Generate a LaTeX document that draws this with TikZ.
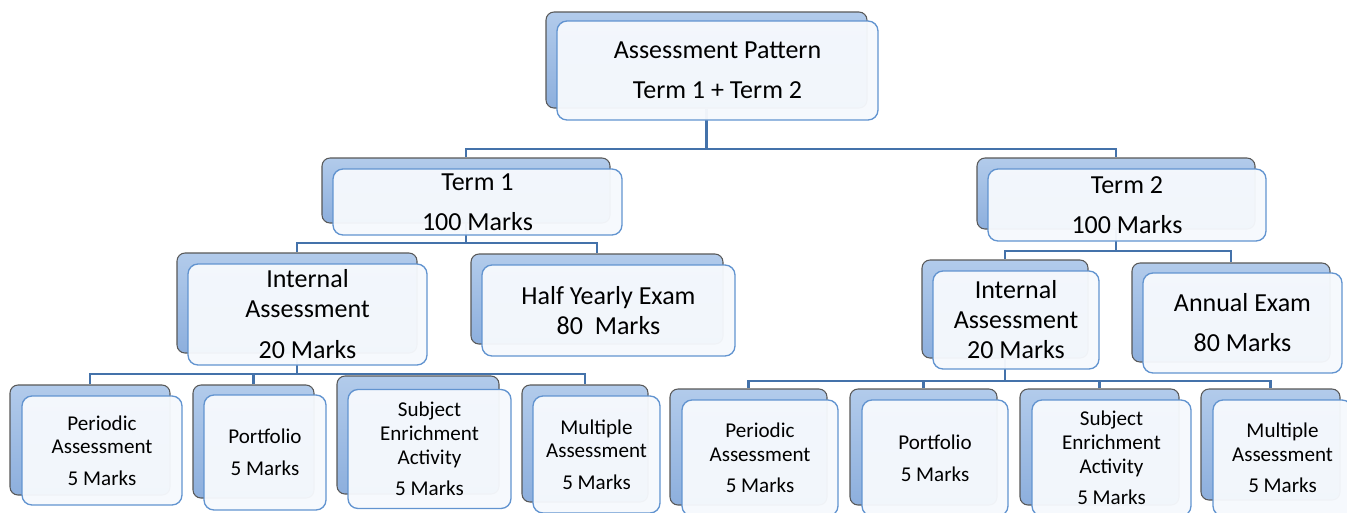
\documentclass[tikz,border=0pt]{standalone}
\usepackage{fontspec}
\setmainfont{Carlito}
\usetikzlibrary{backgrounds}
\definecolor{backtop}{RGB}{178,203,235}
\definecolor{backbot}{RGB}{141,175,221}
\definecolor{backline}{RGB}{88,88,88}
\definecolor{frontline}{RGB}{98,148,208}
\definecolor{frontfill}{RGB}{246,249,253}
\definecolor{linkblue}{RGB}{68,114,170}
\tikzset{every picture/.style={line width=0.75pt}}
\tikzset{
  backbox/.style={draw=backline, line width=0.8pt, rounded corners=6pt, top color=backtop, bottom color=backbot, inner sep=0pt},
  frontbox/.style={draw=frontline, line width=1pt, rounded corners=7.5pt, fill=frontfill, fill opacity=0.96, text opacity=1, align=center, inner sep=0pt},
  bigtext/.style={font=\fontsize{19.5}{22.5}\selectfont},
  smalltext/.style={font=\fontsize{15.8}{17.8}\selectfont},
  link/.style={draw=linkblue, line width=1.9pt}
}

\begin{document}
\begin{tikzpicture}[x=0.75pt,y=0.75pt,yscale=-1,xscale=1]
\useasboundingbox (0,0) rectangle (1347,512);
\clip (0,0) rectangle (1347,512);

%Shape: Top pair
\node [backbox, minimum width=240.75pt, minimum height=72pt] (top) at (706.5,60) {};
\node [frontbox, bigtext, minimum width=240.75pt, minimum height=74.25pt] (topF) at (717.5,70.5) {Assessment Pattern\\[7.5pt]Term 1 + Term 2};

%Shape: Term 1 pair
\node [backbox, minimum width=216pt, minimum height=48.75pt] (tone) at (466,190.5) {};
\node [frontbox, bigtext, minimum width=216.75pt, minimum height=49.5pt] (toneF) at (477.5,202) {Term 1\\[7.5pt]100 Marks};
%Shape: Term 2 pair
\node [backbox, minimum width=208.5pt, minimum height=53.25pt] (ttwo) at (1116,193.5) {};
\node [frontbox, bigtext, minimum width=208.5pt, minimum height=54pt] (ttwoF) at (1127,205) {Term 2\\[7.5pt]100 Marks};

%Shape: Internal Assessment (term 1)
\node [backbox, minimum width=180pt, minimum height=75pt] (inone) at (297,303) {};
\node [frontbox, bigtext, minimum width=179.25pt, minimum height=75.75pt] (inoneF) at (307.5,314.5) {Internal\\Assessment\\[8.25pt]20 Marks};
%Shape: Half Yearly Exam
\node [backbox, minimum width=189pt, minimum height=67.5pt] (half) at (597,299) {};
\node [frontbox, bigtext, minimum width=189.75pt, minimum height=68.25pt] (halfF) at (608.5,310.5) {Half Yearly Exam\\80\ \ Marks};

%Shape: Internal Assessment (term 2)
\node [backbox, minimum width=124.5pt, minimum height=73.5pt] (intwo) at (1005,309) {};
\node [frontbox, bigtext, minimum width=124.5pt, minimum height=73.5pt] (intwoF) at (1016,320) {Internal\\Assessment\\20 Marks};
%Shape: Annual Exam
\node [backbox, minimum width=148.5pt, minimum height=74.25pt] (annual) at (1231,312.5) {};
\node [frontbox, bigtext, minimum width=149.25pt, minimum height=75pt] (annualF) at (1242.5,323) {Annual Exam\\[7.5pt]80 Marks};

%Shape: bottom row, term 1
\node [backbox, minimum width=120pt, minimum height=82.5pt] (perone) at (90,440) {};
\node [frontbox, smalltext, minimum width=120pt, minimum height=81.75pt] (peroneF) at (102,450.5) {Periodic\\Assessment\\[6pt]5 Marks};
\node [backbox, minimum width=90.75pt, minimum height=84.75pt] (portone) at (253.5,441.5) {};
\node [frontbox, smalltext, minimum width=91.5pt, minimum height=86.25pt] (portoneF) at (265,452.5) {Portfolio\\[6pt]5 Marks};
\node [backbox, minimum width=121.5pt, minimum height=88.5pt] (subone) at (418,435) {};
\node [frontbox, smalltext, minimum width=122.25pt, minimum height=89.25pt] (suboneF) at (429.5,449) {Subject\\Enrichment\\Activity\\[5.5pt]5 Marks};
\node [backbox, minimum width=94.5pt, minimum height=87.75pt] (mulone) at (585,443.5) {};
\node [frontbox, smalltext, minimum width=95.25pt, minimum height=87.75pt] (muloneF) at (596.5,454.5) {Multiple\\Assessment\\[6pt]5 Marks};

%Shape: bottom row, term 2
\node [backbox, minimum width=117.75pt, minimum height=87pt] (pertwo) at (748.5,447) {};
\node [frontbox, smalltext, minimum width=117pt, minimum height=87pt] (pertwoF) at (760,458) {Periodic\\Assessment\\[6pt]5 Marks};
\node [backbox, minimum width=110.25pt, minimum height=87pt] (porttwo) at (923.5,447) {};
\node [frontbox, smalltext, minimum width=109.5pt, minimum height=87pt] (porttwoF) at (935,458) {Portfolio\\[6pt]5 Marks};
\node [backbox, minimum width=119.25pt, minimum height=87pt] (subtwo) at (1099.5,447) {};
\node [frontbox, smalltext, minimum width=119.25pt, minimum height=87pt] (subtwoF) at (1111.5,458) {Subject\\Enrichment\\Activity\\[5.5pt]5 Marks};
\node [backbox, minimum width=104.25pt, minimum height=83.25pt] (multwo) at (1270.5,444.5) {};
\node [frontbox, smalltext, minimum width=104.25pt, minimum height=87pt] (multwoF) at (1282.5,458) {Multiple\\Assessment\\[6pt]5 Marks};

% Bars
\coordinate (barA) at (0,149);
\coordinate (barB) at (0,243);
\coordinate (barC) at (0,251);
\coordinate (barD) at (0,374);
\coordinate (barE) at (0,381);

%Straight Lines: connectors
\begin{pgfonlayer}{background}
\draw [link] (top.south) -- (top.south |- barA);
\draw [link] (tone.north) -- (tone.north |- barA) -- (ttwo.north |- barA) -- (ttwo.north);
\draw [link] (tone.south) -- (tone.south |- barB);
\draw [link] (inone.north) -- (inone.north |- barB) -- (half.north |- barB) -- (half.north);
\draw [link] (ttwo.south) -- (ttwo.south |- barC);
\draw [link] (intwo.north) -- (intwo.north |- barC) -- (annual.north |- barC) -- (annual.north);
\draw [link] (inone.south) -- (inone.south |- barD);
\draw [link] (perone.north) -- (perone.north |- barD) -- (mulone.north |- barD) -- (mulone.north);
\draw [link] (portone.north) -- (portone.north |- barD);
\draw [link] (subone.north) -- (subone.north |- barD);
\draw [link] (intwo.south) -- (intwo.south |- barE);
\draw [link] (pertwo.north) -- (pertwo.north |- barE) -- (multwo.north |- barE) -- (multwo.north);
\draw [link] (porttwo.north) -- (porttwo.north |- barE);
\draw [link] (subtwo.north) -- (subtwo.north |- barE);
\end{pgfonlayer}

\end{tikzpicture}
\end{document}
